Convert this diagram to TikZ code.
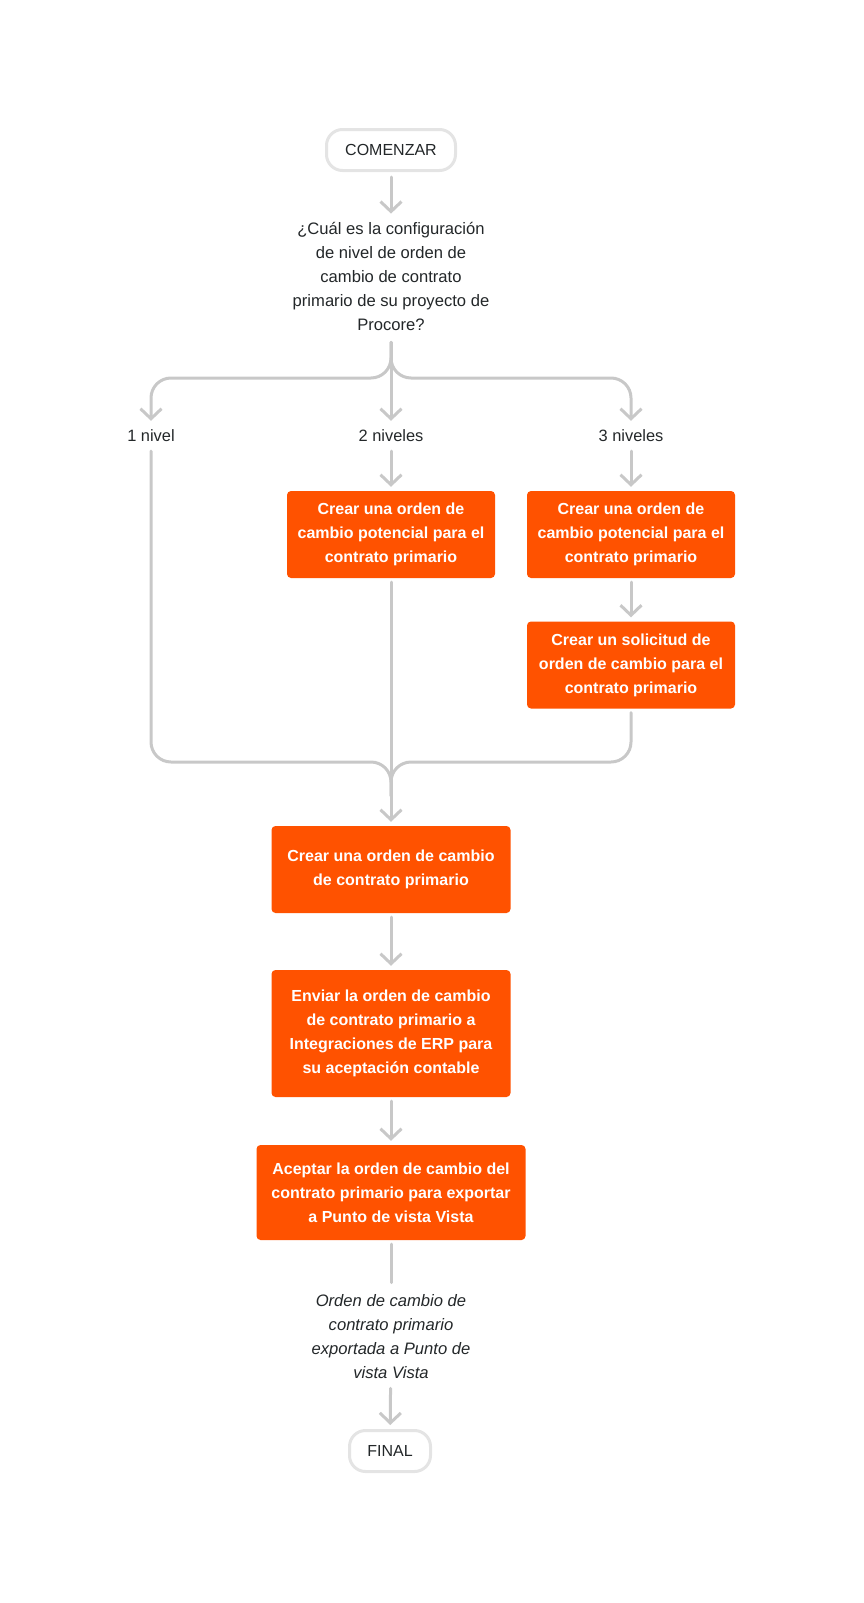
\documentclass[tikz,border=0pt]{standalone}
\usepackage{fontspec}
\setmainfont{Liberation Sans}
\usetikzlibrary{arrows.meta,positioning}
\definecolor{procore}{HTML}{FF5200}
\definecolor{wire}{HTML}{C8C8C8}
\definecolor{ink}{HTML}{232729}
\definecolor{rim}{HTML}{E4E4E4}

\begin{document}
\begin{tikzpicture}[x=1pt, y=-1pt,
  every node/.style={font=\fontsize{16}{24}\selectfont, text=ink},
  pill/.style={draw=rim, line width=3pt, fill=white, rounded corners=16pt, minimum width=129pt, minimum height=41pt},
  task/.style={fill=procore, rounded corners=4pt, text=white, font=\fontsize{16}{24}\selectfont\bfseries, align=center, minimum height=87pt},
  note/.style={align=center, inner sep=0pt, font=\fontsize{16.6}{24}\selectfont},
  lvl/.style={inner sep=0pt, minimum height=22pt, font=\fontsize{16.4}{24}\selectfont},
  wireline/.style={draw=wire, line width=3pt, line cap=round, rounded corners=20pt, shorten <=4pt, shorten >=4pt},
  flow/.style={wireline, -{Straight Barb[length=10pt, width=21pt]}},
]
\useasboundingbox (0,0) rectangle (863,1603);

%start and question
\node[pill] (start) at (391,150) {COMENZAR};
\node[note] (q) at (391,276) {¿Cuál es la configuración\\de nivel de orden de\\cambio de contrato\\primario de su proyecto de\\Procore?};

%levels
\node[lvl] (l1) at (151,436) {1 nivel};
\node[lvl] (l2) at (391,436) {2 niveles};
\node[lvl] (l3) at (631,436) {3 niveles};

\node[task, minimum width=208pt] (pco2) at (391,534.5) {Crear una orden de\\cambio potencial para el\\contrato primario};
\node[task, minimum width=208pt] (pco3) at (631,534.5) {Crear una orden de\\cambio potencial para el\\contrato primario};
\node[task, minimum width=208pt] (cor3) at (631,665) {Crear un solicitud de\\orden de cambio para el\\contrato primario};

%main column
\node[task, minimum width=239pt] (pcco) at (391,869.5) {Crear una orden de cambio\\de contrato primario};
\node[task, minimum width=239pt, minimum height=127pt] (erp) at (391,1033.5) {Enviar la orden de cambio\\de contrato primario a\\Integraciones de ERP para\\su aceptación contable};
\node[task, minimum width=269pt, minimum height=95pt] (accept) at (391,1192.5) {Aceptar la orden de cambio del\\contrato primario para exportar\\a Punto de vista Vista};
\node[note, font=\fontsize{16.6}{24}\selectfont\itshape] (done) at (391,1337) {Orden de cambio de\\contrato primario\\exportada a Punto de\\vista Vista};
\node[pill, minimum width=81pt] (stop) at (390,1451) {FINAL};

\coordinate (split) at (391,378);
\coordinate (join) at (391,762);

%connectors
\draw[flow, shorten <=5pt, shorten >=8pt] (start) -- (q);
\draw[flow, shorten <=12pt] (q.south) -- (split) -| (l1.north);
\draw[flow, shorten <=12pt] (q.south) -- (l2.north);
\draw[flow, shorten <=12pt] (q.south) -- (split) -| (l3.north);
\draw[flow] (l2) -- (pco2);
\draw[flow] (l3) -- (pco3);
\draw[flow] (pco3) -- (cor3);
\draw[flow] (pco2) -- (pcco);
\draw[wireline, shorten >=30pt] (l1.south) |- (join) -- (pcco.north);
\draw[wireline, shorten >=30pt] (cor3.south) |- (join) -- (pcco.north);
\draw[flow] (pcco) -- (erp);
\draw[flow] (erp) -- (accept);
\draw[wireline, shorten >=12pt] (accept) -- (done);
\draw[flow, shorten <=9pt] (done) -- (stop);

\end{tikzpicture}
\end{document}
